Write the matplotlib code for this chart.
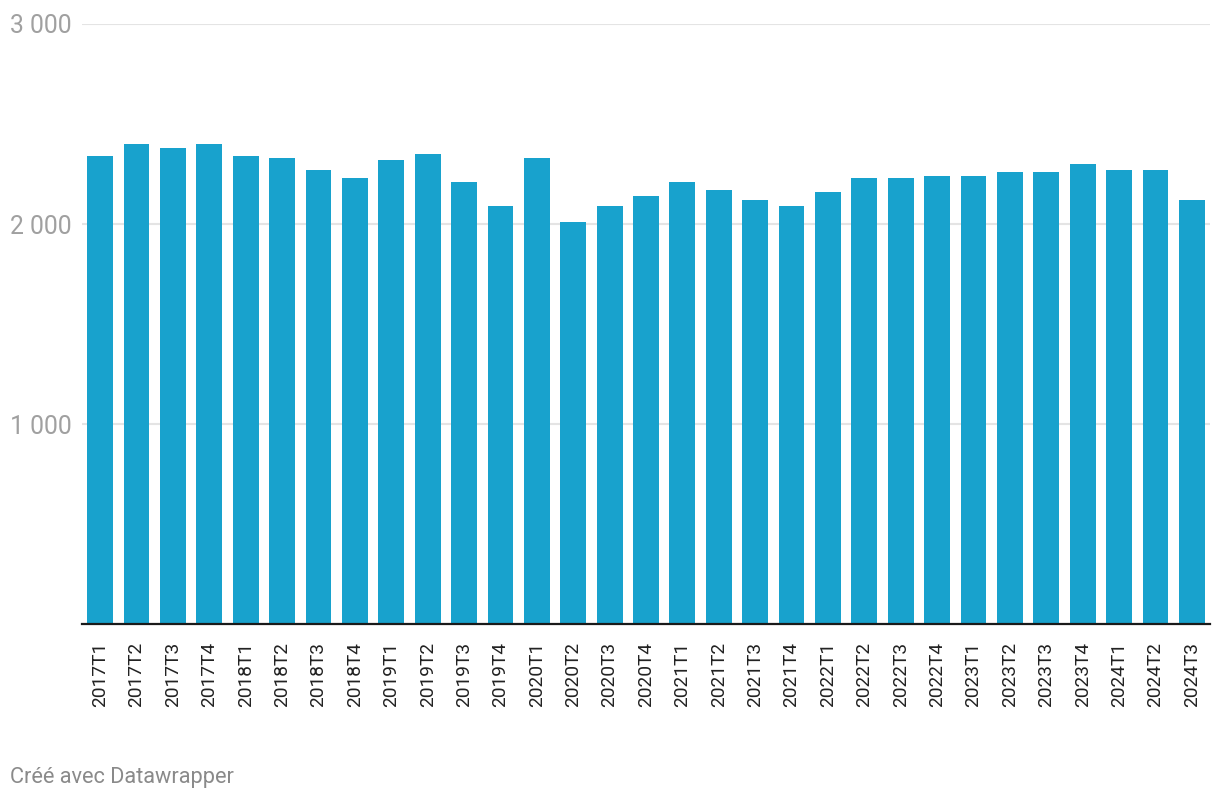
import matplotlib
matplotlib.use("Agg")
import matplotlib.pyplot as plt

quarters = ["2017T1", "2017T2", "2017T3", "2017T4",
            "2018T1", "2018T2", "2018T3", "2018T4",
            "2019T1", "2019T2", "2019T3", "2019T4",
            "2020T1", "2020T2", "2020T3", "2020T4",
            "2021T1", "2021T2", "2021T3", "2021T4",
            "2022T1", "2022T2", "2022T3", "2022T4",
            "2023T1", "2023T2", "2023T3", "2023T4",
            "2024T1", "2024T2", "2024T3"]
values = [2340, 2400, 2380, 2400,
          2340, 2330, 2270, 2230,
          2320, 2350, 2210, 2090,
          2330, 2010, 2090, 2140,
          2210, 2170, 2120, 2090,
          2160, 2230, 2230, 2240,
          2240, 2260, 2260, 2300,
          2270, 2270, 2120]
y_ticks = [1000, 2000, 3000]
y_labels = ["1 000", "2 000", "3 000"]
credit = "Créé avec Datawrapper"

plt.rcParams['font.family'] = ['Roboto', 'DejaVu Sans']

W, H = 1220, 802
fig = plt.figure(figsize=(W / 100, H / 100), dpi=100)
ax = fig.add_axes([82 / W, (H - 624) / H, (1210 - 82) / W, (624 - 24) / H])

x = list(range(len(quarters)))
ax.bar(x, values, width=0.71, color="#18a2cd", zorder=2)

ax.set_xlim(-0.5, len(quarters) - 0.5)
ax.set_ylim(0, 3000)

ax.set_yticks(y_ticks)
ax.set_yticklabels(y_labels)
ax.yaxis.grid(True, color="#e4e4e4", linewidth=1.5, zorder=0)
ax.tick_params(axis="y", length=0, pad=51.8, labelsize=17.8, labelcolor="#a0a0a0")
for lbl in ax.get_yticklabels():
    lbl.set_horizontalalignment("left")

ax.set_xticks(x)
ax.set_xticklabels(quarters, rotation=90, va="top", ha="center")
ax.tick_params(axis="x", length=0, pad=13, labelsize=13.8, labelcolor="#222222")

for s in ["top", "right", "left"]:
    ax.spines[s].set_visible(False)
ax.spines["bottom"].set_color("#1a1a1a")
ax.spines["bottom"].set_linewidth(1.6)
ax.spines["bottom"].set_zorder(3)

fig.text(10 / W, 1 - 778 / H, credit, ha="left", va="center",
         fontsize=15.7, color="#8a8a8a")

fig.savefig("out.png", dpi=100)
